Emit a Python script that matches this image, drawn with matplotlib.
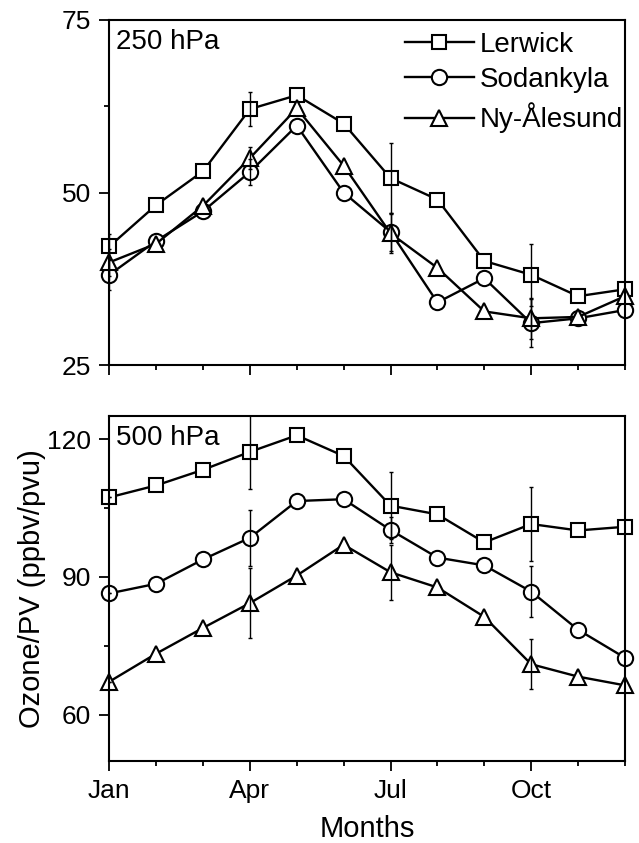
import matplotlib
matplotlib.use('Agg')
import matplotlib.pyplot as plt
from matplotlib.ticker import FixedLocator

plt.rcParams['font.family'] = ['Liberation Sans', 'DejaVu Sans']

months = list(range(1, 13))
month_ticks = [1, 4, 7, 10]
month_labels = ['Jan', 'Apr', 'Jul', 'Oct']
stations = ['Lerwick', 'Sodankyla', 'Ny-Ålesund']

# 250 hPa
lerwick_250 = [42.2, 48.2, 53.1, 62.1, 64.1, 60.0, 52.1, 49.0, 40.1, 38.1, 35.0, 36.0]
sodankyla_250 = [38.1, 43.0, 47.3, 53.0, 59.7, 50.0, 44.3, 34.1, 37.6, 31.1, 31.8, 33.0]
nyalesund_250 = [39.9, 42.6, 48.1, 55.0, 62.2, 53.9, 44.1, 39.1, 32.8, 31.8, 32.0, 35.0]

# 500 hPa
lerwick_500 = [107.3, 109.9, 113.3, 117.2, 120.8, 116.3, 105.5, 103.6, 97.5, 101.5, 100.1, 100.9]
sodankyla_500 = [86.4, 88.5, 93.8, 98.5, 106.5, 106.9, 100.2, 94.2, 92.5, 86.8, 78.5, 72.4]
nyalesund_500 = [67.2, 73.3, 78.9, 84.3, 90.3, 97.0, 91.0, 87.7, 81.3, 71.0, 68.3, 66.4]

# error bars shown only for Jan/Apr/Jul/Oct
err_months = [1, 4, 7, 10]
lerwick_250_err = [1.8, 2.4, 5.1, 4.5]
sodankyla_250_err = [2.2, 1.9, 2.8, 3.5]
nyalesund_250_err = [2.0, 1.6, 2.8, 3.0]
lerwick_500_err = [0.0, 8.0, 7.3, 8.0]
sodankyla_500_err = [0.0, 6.1, 2.8, 5.6]
nyalesund_500_err = [0.0, 7.6, 6.0, 5.5]

markers = ['s', 'o', '^']
msizes = [9.5, 11, 12]

fig = plt.figure(figsize=(6.39, 8.43), dpi=100)
ax1 = fig.add_axes([0.171, 0.5667, 0.807, 0.4096])
ax2 = fig.add_axes([0.171, 0.0976, 0.807, 0.4089])


def draw_panel(ax, series, errs, label):
    for vals, ev, mk, ms, name in zip(series, errs, markers, msizes, stations):
        ax.plot(months, vals, color='black', lw=1.7, marker=mk, ms=ms,
                mfc='white', mec='black', mew=1.5, label=name, zorder=3,
                clip_on=False)
        ev_vals = [vals[m - 1] for m in err_months]
        ax.errorbar(err_months, ev_vals, yerr=ev, fmt='none', ecolor='black',
                    elinewidth=1.0, capsize=1.5, capthick=1.0, zorder=4)
    ax.set_xlim(1, 12)
    ax.xaxis.set_major_locator(FixedLocator(month_ticks))
    ax.xaxis.set_minor_locator(FixedLocator(months))
    ax.tick_params(which='major', direction='out', length=7, width=1.3,
                   labelsize=19, pad=6, top=False, right=False)
    ax.tick_params(which='minor', direction='out', length=3.8, width=1.3,
                   top=False, right=False)
    for sp in ax.spines.values():
        sp.set_linewidth(1.5)
        sp.set_zorder(5)
    ax.text(0.014, 0.937, label, transform=ax.transAxes, fontsize=20,
            ha='left', va='center')


draw_panel(ax1, [lerwick_250, sodankyla_250, nyalesund_250],
           [lerwick_250_err, sodankyla_250_err, nyalesund_250_err], '250 hPa')
ax1.set_ylim(25, 75)
ax1.set_yticks([25, 50, 75])
ax1.yaxis.set_minor_locator(FixedLocator([37.5, 62.5]))
ax1.set_xticklabels([])
ax1.legend(loc='upper left', bbox_to_anchor=(0.562, 0.982), frameon=False,
           fontsize=20, handlelength=2.5, handletextpad=0.22, labelspacing=0.34,
           borderpad=0.2, borderaxespad=0)

draw_panel(ax2, [lerwick_500, sodankyla_500, nyalesund_500],
           [lerwick_500_err, sodankyla_500_err, nyalesund_500_err], '500 hPa')
ax2.set_ylim(50, 125)
ax2.set_yticks([60, 90, 120])
ax2.yaxis.set_minor_locator(FixedLocator([75, 105]))
ax2.set_xticklabels(month_labels)
ax2.set_xlabel('Months', fontsize=21, labelpad=9)
ax2.set_ylabel('Ozone/PV (ppbv/pvu)', fontsize=21, labelpad=1)

fig.savefig('out.png', dpi=100)
